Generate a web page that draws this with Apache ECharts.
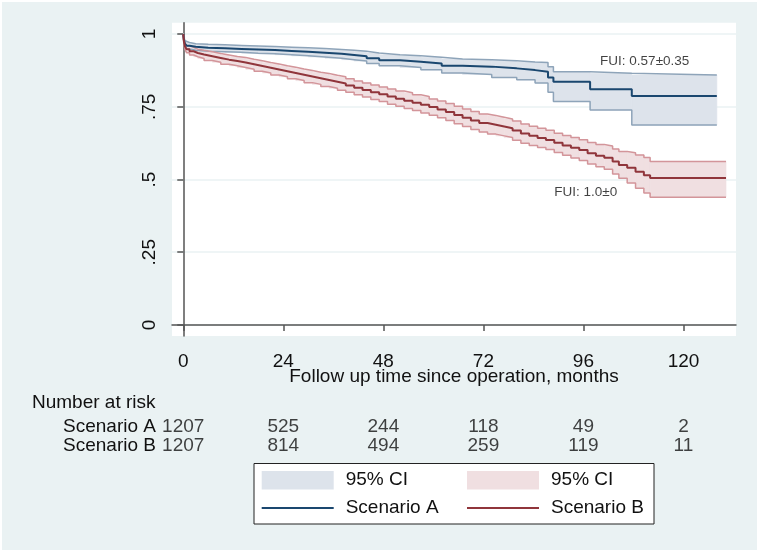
<!DOCTYPE html>
<html>
<head>
<meta charset="utf-8">
<script src="https://cdn.jsdelivr.net/npm/echarts@6/dist/echarts.min.js"></script>
<style>
html, body { margin: 0; padding: 0; background: #fff; }
#chart { width: 759px; height: 553px; }
</style>
</head>
<body>
<div id="chart"></div>
<script>
// axis ticks
var xTicks = [0, 24, 48, 72, 96, 120];
var yTicks = [0, 0.25, 0.5, 0.75, 1];
var yTickLabels = ['0', '.25', '.5', '.75', '1'];

// Scenario A: months, survival, 95% CI
var timeA = [0, 0.15, 0.4, 0.8, 1.5, 3, 6, 10, 14, 18, 22, 26, 30, 34, 38, 41, 44, 47, 52, 57, 62, 67, 74, 80, 84.4, 87.5, 88.8, 97.6, 107.6, 128];
var survA = [1, .980, .967, .960, .956, .953, .951, .949, .947, .945, .942, .939, .936, .932, .928, .924, .917, .910, .905, .899, .891, .888, .882, .876, .870, .851, .836, .810, .787, .787];
var lowA  = [1, .972, .957, .949, .944, .941, .939, .937, .934, .932, .929, .925, .921, .917, .912, .907, .899, .891, .885, .877, .866, .861, .851, .843, .832, .800, .768, .739, .687, .687];
var highA = [1, .988, .977, .971, .967, .965, .963, .961, .959, .957, .955, .953, .950, .947, .944, .941, .935, .929, .925, .920, .914, .912, .908, .904, .902, .888, .870, .865, .859, .859];

// Scenario B
var timeB = [0, 0.15, 0.4, 0.8, 1.5, 2.5, 3.5, 5, 7, 9, 11, 13, 15, 17, 19, 21, 23, 25, 27, 29, 31, 33, 35, 37, 39, 41, 43, 45, 47, 49, 51, 53, 55, 57, 59, 61, 63, 65, 67, 69, 71, 73, 75, 77, 79, 81, 83, 85, 87, 89, 91, 93, 95, 97, 99, 101, 103, 104.5, 106.5, 108.5, 110.5, 112, 130.2];
var survB = [1, .975, .958, .948, .941, .935, .930, .924, .918, .912, .907, .902, .896, .890, .884, .878, .872, .866, .860, .854, .848, .842, .836, .830, .823, .815, .808, .800, .793, .785, .778, .771, .764, .757, .749, .741, .732, .722, .712, .703, .694, .688, .682, .676, .668, .658, .650, .643, .636, .626, .617, .609, .601, .590, .582, .575, .562, .550, .540, .527, .515, .505, .505];
var lowB  = [1, .967, .947, .936, .928, .922, .916, .909, .903, .896, .891, .885, .879, .872, .866, .859, .853, .846, .840, .833, .827, .820, .814, .807, .800, .791, .784, .775, .768, .759, .752, .744, .737, .729, .721, .712, .703, .692, .682, .672, .663, .656, .650, .644, .635, .625, .617, .610, .603, .593, .583, .574, .565, .553, .544, .535, .519, .504, .488, .470, .454, .439, .439];
var highB = [1, .983, .969, .960, .954, .948, .944, .939, .933, .928, .923, .919, .913, .908, .902, .897, .891, .886, .880, .875, .869, .864, .858, .853, .846, .839, .832, .825, .818, .811, .804, .798, .791, .785, .777, .770, .761, .752, .742, .734, .725, .720, .714, .708, .701, .691, .683, .676, .669, .659, .651, .644, .637, .627, .620, .615, .605, .596, .592, .584, .576, .562, .562];

// number at risk
var riskTimes = [0, 24, 48, 72, 96, 120];
var riskA = [1207, 525, 244, 118, 49, 2];
var riskB = [1207, 814, 494, 259, 119, 11];
var riskRows = ['Scenario A', 'Scenario B'];

// text notes: label, month, survival
var notes = [['FUI: 0.57±0.35', 100, 0.906], ['FUI: 1.0±0', 89, 0.455]];

var legendText = { ciA: '95% CI', ciB: '95% CI', 'Scenario A': 'Scenario A', 'Scenario B': 'Scenario B' };
var txt = '#111';
var axisCol = '#555';
var font = 'Liberation Sans, Arial, sans-serif';

function pairs(t, v) {
	return t.map(function (x, i) { return [x, v[i]]; });
}

function band(name, t, lo, hi, color) {
	var data = [];
	for (var i = 0; i < t.length - 1; i++) {
		data.push([t[i], t[i + 1], lo[i], hi[i]]);
	}
	return {
		name: name,
		type: 'custom',
		xAxisIndex: 0,
		yAxisIndex: 0,
		itemStyle: { color: color },
		encode: { x: [0, 1], y: [2, 3] },
		clip: true,
		z: 1,
		data: data,
		renderItem: function (params, api) {
			var a = api.coord([api.value(0), api.value(3)]);
			var b = api.coord([api.value(1), api.value(2)]);
			return {
				type: 'rect',
				shape: { x: a[0], y: a[1], width: b[0] - a[0], height: b[1] - a[1] },
				style: { fill: color, stroke: color, lineWidth: 0.6 }
			};
		}
	};
}

function stepLine(name, t, v, color, width, z) {
	return {
		name: name,
		type: 'line',
		step: 'end',
		symbol: 'none',
		data: pairs(t, v),
		lineStyle: { color: color, width: width },
		itemStyle: { color: color },
		z: z
	};
}

function riskSeries(row, vals) {
	return {
		type: 'scatter',
		xAxisIndex: 1,
		yAxisIndex: 1,
		symbolSize: 0,
		data: riskTimes.map(function (t, i) { return [t, row, vals[i]]; }),
		label: {
			show: true, position: 'inside', fontSize: 19, fontFamily: font, color: txt,
			formatter: function (p) { return p.value[2]; }
		}
	};
}

var legendBase = {
	orient: 'vertical',
	top: 470.7,
	padding: 0,
	itemGap: 8.7,
	itemWidth: 72,
	itemHeight: 18.6,
	selectedMode: false,
	formatter: function (n) { return legendText[n]; },
	textStyle: { fontSize: 19, fontFamily: font, color: txt, padding: [0, 0, 0, 7] }
};

var chart = echarts.init(document.getElementById('chart'));
chart.setOption({
	animation: false,
	graphic: [
		{ type: 'rect', shape: { x: 2, y: 2, width: 755, height: 548 }, style: { fill: '#eaf2f3' }, z: -10, silent: true },
		{ type: 'rect', shape: { x: 254, y: 463.5, width: 400, height: 60.5 }, style: { fill: '#fff', stroke: '#222', lineWidth: 1 }, z: -5, silent: true }
	],
	title: {
		text: 'Number at risk', left: 32, top: 393, padding: 0,
		textStyle: { fontSize: 19, fontWeight: 'normal', fontFamily: font, color: txt }
	},
	legend: [
		Object.assign({}, legendBase, { left: 260.7, data: [{ name: 'ciA', icon: 'rect' }, { name: 'Scenario A', itemStyle: { opacity: 0 } }] }),
		Object.assign({}, legendBase, { left: 466, data: [{ name: 'ciB', icon: 'rect' }, { name: 'Scenario B', itemStyle: { opacity: 0 } }] })
	],
	grid: [
		{ left: 172, right: 23, top: 22.7, bottom: 217, show: true, backgroundColor: '#fff', borderWidth: 0 },
		{ left: 172, right: 23, top: 417, height: 38.6 }
	],
	xAxis: [{
		type: 'value', gridIndex: 0, min: -2.7, max: 132.6,
		axisLine: { show: true, lineStyle: { color: axisCol, width: 1.5 } },
		axisTick: { show: true, length: 6, customValues: xTicks, lineStyle: { color: axisCol, width: 1.5 } },
		axisLabel: { customValues: xTicks, fontSize: 19, fontFamily: font, color: txt, margin: 16 },
		splitLine: { show: false },
		name: 'Follow up time since operation, months',
		nameLocation: 'middle',
		nameGap: 31,
		nameMoveOverlap: false,
		nameTextStyle: { fontSize: 19, fontFamily: font, color: txt }
	}, {
		type: 'value', gridIndex: 1, min: -2.7, max: 132.6, show: false
	}],
	yAxis: [{
		type: 'value', gridIndex: 0, min: -0.038, max: 1.039,
		axisLine: { show: true, lineStyle: { color: axisCol, width: 1.5 } },
		axisTick: { show: true, length: 6, customValues: yTicks, lineStyle: { color: axisCol, width: 1.5 } },
		axisLabel: {
			customValues: yTicks, rotate: 90, fontSize: 19, fontFamily: font, color: txt, margin: 13,
			formatter: function (v) {
				for (var i = 0; i < yTicks.length; i++) {
					if (Math.abs(yTicks[i] - v) < 1e-6) return yTickLabels[i];
				}
				return '';
			}
		},
		splitLine: { show: true, lineStyle: { color: '#eaf2f3', width: 1.5 } }
	}, {
		type: 'category', gridIndex: 1, data: riskRows, inverse: true,
		axisLine: { show: false }, axisTick: { show: false }, splitLine: { show: false },
		axisLabel: { interval: 0, fontSize: 19, fontFamily: font, color: txt, margin: 16 }
	}],
	series: [
		band('ciA', timeA, lowA, highA, '#dde3eb'),
		band('ciB', timeB, lowB, highB, '#f0dfe1'),
		stepLine('loA', timeA, lowA, '#8ea4b9', 1.5, 2),
		stepLine('hiA', timeA, highA, '#8ea4b9', 1.5, 2),
		stepLine('loB', timeB, lowB, '#d3959a', 1.5, 2),
		stepLine('hiB', timeB, highB, '#d3959a', 1.5, 2),
		stepLine('Scenario A', timeA, survA, '#1a476f', 2, 3),
		stepLine('Scenario B', timeB, survB, '#90353b', 2, 3),
		{
			type: 'scatter', xAxisIndex: 0, yAxisIndex: 0, symbolSize: 0, z: 4,
			data: notes.map(function (n) { return [n[1], n[2], n[0]]; }),
			label: {
				show: true, position: 'right', distance: 0, fontSize: 13.5, fontFamily: font, color: txt,
				formatter: function (p) { return p.value[2]; }
			}
		},
		riskSeries('Scenario A', riskA),
		riskSeries('Scenario B', riskB)
	]
});
</script>
</body>
</html>
